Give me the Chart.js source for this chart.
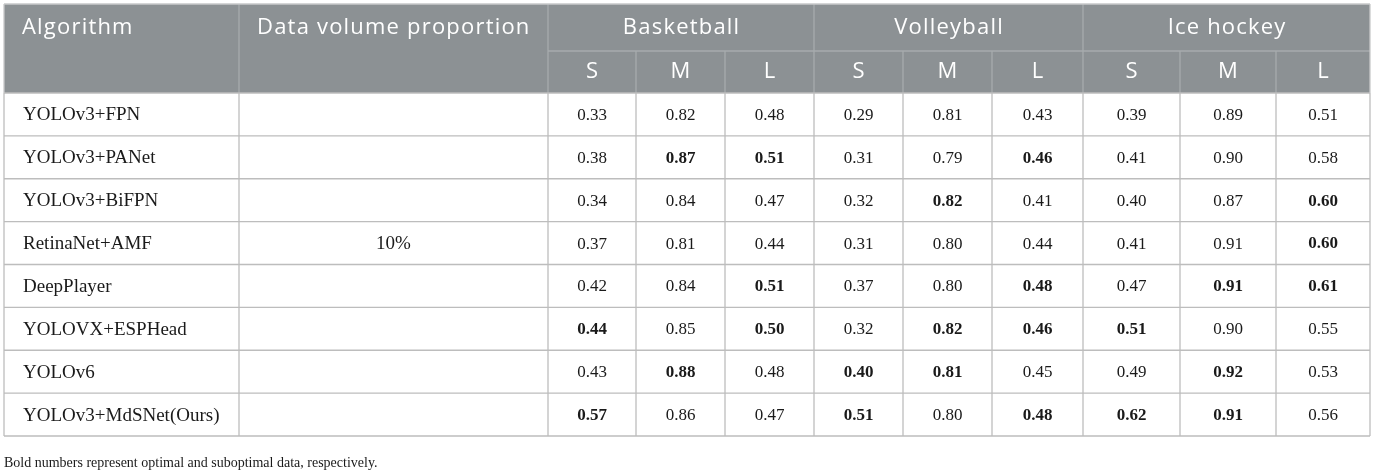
<!DOCTYPE html>
<html>
<head>
<meta charset="utf-8">
<script src="https://cdn.jsdelivr.net/npm/chart.js@4"></script>
<style>
html,body{margin:0;padding:0;background:#fff;}
#wrap{width:1377px;height:470px;}
</style>
</head>
<body>
<div id="wrap"><canvas id="c" width="1377" height="470"></canvas></div>
<script>
// ---------- data ----------
const algorithms = ['YOLOv3+FPN','YOLOv3+PANet','YOLOv3+BiFPN','RetinaNet+AMF','DeepPlayer','YOLOVX+ESPHead','YOLOv6','YOLOv3+MdSNet(Ours)'];
const headerLabels = ['Algorithm','Data volume proportion'];
const sports = ['Basketball','Volleyball','Ice hockey'];
const sizes = ['S','M','L'];
const dataVolume = '10%';
const footnote = 'Bold numbers represent optimal and suboptimal data, respectively.';

const basketballS = [0.33,0.38,0.34,0.37,0.42,0.44,0.43,0.57];
const basketballM = [0.82,0.87,0.84,0.81,0.84,0.85,0.88,0.86];
const basketballL = [0.48,0.51,0.47,0.44,0.51,0.50,0.48,0.47];
const volleyballS = [0.29,0.31,0.32,0.31,0.37,0.32,0.40,0.51];
const volleyballM = [0.81,0.79,0.82,0.80,0.80,0.82,0.81,0.80];
const volleyballL = [0.43,0.46,0.41,0.44,0.48,0.46,0.45,0.48];
const hockeyS = [0.39,0.41,0.40,0.41,0.47,0.51,0.49,0.62];
const hockeyM = [0.89,0.90,0.87,0.91,0.91,0.90,0.92,0.91];
const hockeyL = [0.51,0.58,0.60,0.60,0.61,0.55,0.53,0.56];

const boldBasketballS = [0,0,0,0,0,1,0,1];
const boldBasketballM = [0,1,0,0,0,0,1,0];
const boldBasketballL = [0,1,0,0,1,1,0,0];
const boldVolleyballS = [0,0,0,0,0,0,1,1];
const boldVolleyballM = [0,0,1,0,0,1,1,0];
const boldVolleyballL = [0,1,0,0,1,1,0,1];
const boldHockeyS = [0,0,0,0,0,1,0,1];
const boldHockeyM = [0,0,0,0,1,0,1,1];
const boldHockeyL = [0,0,1,1,1,0,0,0];

const valueColumns = [basketballS,basketballM,basketballL,volleyballS,volleyballM,volleyballL,hockeyS,hockeyM,hockeyL];
const boldColumns = [boldBasketballS,boldBasketballM,boldBasketballL,boldVolleyballS,boldVolleyballM,boldVolleyballL,boldHockeyS,boldHockeyM,boldHockeyL];

// ---------- layout (style, not data) ----------
const colEdges = [4,239,548,636,725,814,903,992,1083,1180,1276,1370];
const headRow1 = 47, headRow2 = 42;
const headerBg = '#8c9194';
const headerLine = '#a7abad';
const bodyLine = '#bdbdbd';
const sansFont = '"Open Sans", sans-serif';
const serifFont = '"Liberation Serif", "Times New Roman", serif';

function colCenter(k){ return (colEdges[k] + colEdges[k+1]) / 2; }

const datasets = valueColumns.map((vals, c) => ({
  label: sports[Math.floor(c/3)] + ' ' + sizes[c%3],
  data: vals.map((v, i) => ({x: colCenter(c+2), y: algorithms[i], v: v, b: boldColumns[c][i]})),
  pointRadius: 0,
  pointHoverRadius: 0,
  showLine: false
}));

const tablePlugin = {
  id: 'tablePlugin',
  beforeDatasetsDraw(chart){
    const {ctx, chartArea, scales} = chart;
    const xs = scales.x, ys = scales.y;
    const X = v => xs.getPixelForValue(v);
    const n = algorithms.length;
    const band = (chartArea.bottom - chartArea.top) / n;
    const hTop = chartArea.top - headRow1 - headRow2;
    const hMid = hTop + headRow1;
    const left = X(colEdges[0]), right = X(colEdges[colEdges.length-1]);
    ctx.save();
    // header background
    ctx.fillStyle = headerBg;
    ctx.fillRect(left, hTop, right-left, chartArea.top - hTop);
    // header lines
    ctx.strokeStyle = headerLine;
    ctx.lineWidth = 1.3;
    ctx.beginPath();
    [1,2,5,8].forEach(k => { ctx.moveTo(X(colEdges[k]), hTop); ctx.lineTo(X(colEdges[k]), chartArea.top); });
    [3,4,6,7,9,10].forEach(k => { ctx.moveTo(X(colEdges[k]), hMid); ctx.lineTo(X(colEdges[k]), chartArea.top); });
    ctx.moveTo(X(colEdges[2]), hMid); ctx.lineTo(right, hMid);
    ctx.stroke();
    // body lines
    ctx.strokeStyle = bodyLine;
    ctx.beginPath();
    for (let i = 0; i <= n; i++) {
      const y = i < n ? ys.getPixelForValue(i) - band/2 : ys.getPixelForValue(n-1) + band/2;
      ctx.moveTo(left, y); ctx.lineTo(right, y);
    }
    colEdges.forEach(e => { ctx.moveTo(X(e), chartArea.top); ctx.lineTo(X(e), chartArea.bottom); });
    ctx.stroke();
    // outer top / left / right border lines in header
    ctx.strokeStyle = '#c8c9ca';
    ctx.beginPath();
    ctx.moveTo(left, hTop); ctx.lineTo(right, hTop);
    ctx.moveTo(left, hTop); ctx.lineTo(left, chartArea.top);
    ctx.moveTo(right, hTop); ctx.lineTo(right, chartArea.top);
    ctx.stroke();

    // header text
    ctx.fillStyle = '#ffffff';
    ctx.font = '22px ' + sansFont;
    try { ctx.letterSpacing = '1.2px'; } catch(e) {}
    ctx.textBaseline = 'middle';
    const yh1 = hTop + headRow1/2;
    const yh2 = hMid + headRow2/2;
    ctx.textAlign = 'left';
    ctx.fillText(headerLabels[0], X(colEdges[0]) + 18, yh1);
    ctx.fillText(headerLabels[1], X(colEdges[1]) + 18, yh1);
    ctx.textAlign = 'center';
    sports.forEach((s, k) => {
      ctx.fillText(s, (X(colEdges[2+3*k]) + X(colEdges[5+3*k]))/2 + 0.6, yh1);
      sizes.forEach((z, j) => ctx.fillText(z, X(colCenter(2+3*k+j)) + 0.6, yh2));
    });
    try { ctx.letterSpacing = '0px'; } catch(e) {}

    // body text: algorithm names and data volume
    ctx.fillStyle = '#1a1a1a';
    ctx.font = '19px ' + serifFont;
    ctx.textAlign = 'left';
    algorithms.forEach((a, i) => ctx.fillText(a, X(colEdges[0]) + 19, ys.getPixelForValue(i) + 1));
    ctx.textAlign = 'center';
    ctx.fillText(dataVolume, X(colCenter(1)), ys.getPixelForValue(3) + 1);

    // footnote
    ctx.textAlign = 'left';
    ctx.font = '14px ' + serifFont;
    ctx.fillText(footnote, X(colEdges[0]), chartArea.bottom + 27);
    ctx.restore();
  },
  afterDatasetsDraw(chart){
    const {ctx} = chart;
    ctx.save();
    ctx.fillStyle = '#1a1a1a';
    ctx.textAlign = 'center';
    ctx.textBaseline = 'middle';
    chart.data.datasets.forEach((ds, d) => {
      const meta = chart.getDatasetMeta(d);
      meta.data.forEach((pt, i) => {
        const r = ds.data[i];
        ctx.font = (r.b ? 'bold ' : '') + '17px ' + serifFont;
        ctx.fillText(r.v.toFixed(2), pt.x, pt.y + 1);
      });
    });
    ctx.restore();
  }
};

new Chart(document.getElementById('c'), {
  type: 'scatter',
  data: { labels: algorithms, datasets: datasets },
  options: {
    responsive: false,
    animation: false,
    layout: { padding: { top: 93, bottom: 34, left: 4, right: 7 } },
    plugins: { legend: { display: false }, tooltip: { enabled: false } },
    scales: {
      x: { type: 'linear', display: false, min: colEdges[0], max: colEdges[colEdges.length-1] },
      y: { type: 'category', labels: algorithms, display: false, offset: true }
    }
  },
  plugins: [tablePlugin]
});
</script>
</body>
</html>
